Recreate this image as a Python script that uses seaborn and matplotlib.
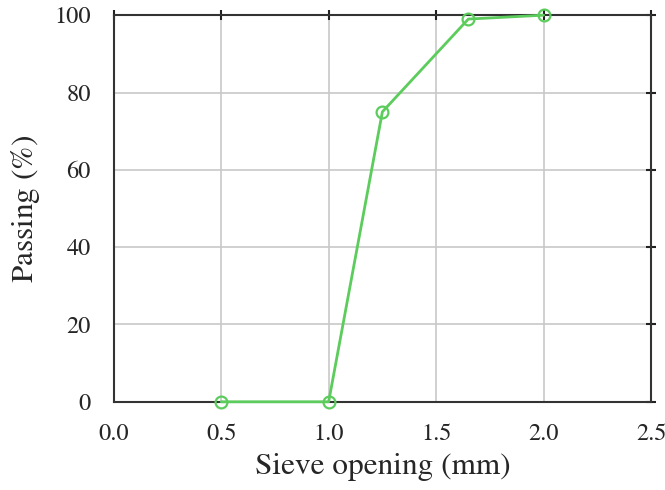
import matplotlib
matplotlib.use('Agg')
import matplotlib.pyplot as plt
import seaborn as sns
import pandas as pd

# sieve data
sieve_mm = [0.5, 1.0, 1.25, 1.65, 2.0]
passing_pct = [0, 0, 75, 99, 100]

df = pd.DataFrame({'sieve': sieve_mm, 'passing': passing_pct})

sns.set_style('whitegrid')
plt.rcParams['font.family'] = ['STIXGeneral', 'DejaVu Serif']
plt.rcParams['mathtext.fontset'] = 'stix'

fig = plt.figure(figsize=(6.65, 4.9), dpi=100)
ax = fig.add_axes([0.171, 0.180, 0.808, 0.789])

sns.lineplot(data=df, x='sieve', y='passing', ax=ax, color='#5ccc5c',
             linewidth=2, marker='o', markersize=8.5, markerfacecolor='none',
             markeredgecolor='#5ccc5c', markeredgewidth=1.6, clip_on=False, zorder=5)

ax.set_xlim(0, 2.5)
ax.set_ylim(0, 100)
ax.set_xticks([0, 0.5, 1.0, 1.5, 2.0, 2.5])
ax.set_xticklabels(['0.0', '0.5', '1.0', '1.5', '2.0', '2.5'])
ax.set_yticks([0, 20, 40, 60, 80, 100])
ax.grid(True, color='#c8c8c8', linewidth=1.2)

for s in ax.spines.values():
    s.set_visible(True)
    s.set_color('#333333')
    s.set_linewidth(1.5)

ax.tick_params(direction='inout', length=7, width=1.5, color='#222222',
               top=True, right=True, labelsize=17.5,
               labeltop=False, labelright=False)
ax.tick_params(axis='x', pad=12)
ax.tick_params(axis='y', pad=13)
ax.set_xlabel('Sieve opening (mm)', fontsize=22.5, labelpad=6)
ax.set_ylabel(r'Passing ($\%$)', fontsize=22.5, labelpad=9)

fig.savefig('out.png', dpi=100)
